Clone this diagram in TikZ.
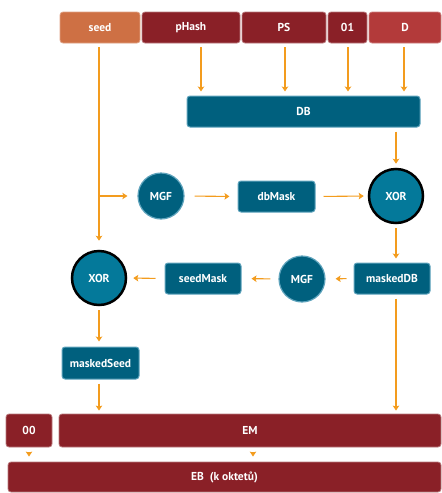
\documentclass[tikz,border=0pt]{standalone}
\usepackage{fontspec}
\setmainfont{PT Sans}
\usepackage{tikz}
\usetikzlibrary{arrows.meta, positioning, calc}

\definecolor{seedorange}{HTML}{CE7044}
\definecolor{darkred}{HTML}{8A2027}
\definecolor{lightred}{HTML}{B33A3A}
\definecolor{tealdark}{HTML}{00607E}
\definecolor{tealmid}{HTML}{04799A}
\definecolor{tealline}{HTML}{5EA3BC}
\definecolor{linkorange}{HTML}{F39C1E}

\begin{document}
\begin{tikzpicture}[
    x=1pt, y=-1pt,
    font=\bfseries\fontsize{11.5}{13}\selectfont,
    bar/.style={rectangle, rounded corners=3pt, line width=0.8pt, text=white, minimum height=31pt, inner sep=0pt},
    seedbar/.style={bar, fill=seedorange, draw=seedorange!65!white},
    redbar/.style={bar, fill=darkred, draw=darkred!60!white},
    dbar/.style={bar, fill=lightred, draw=lightred!65!white},
    tealbox/.style={bar, fill=tealdark, draw=tealline, line width=1pt},
    mgf/.style={circle, fill=tealdark, draw=tealline, line width=1.2pt, minimum size=46pt, inner sep=0pt, text=white},
    xor/.style={circle, fill=tealmid, draw=black, line width=2.5pt, minimum size=54pt, inner sep=0pt, text=white},
    arrow/.style={draw=linkorange, line width=1.1pt, -{Stealth[length=5pt, width=6.5pt, inset=1pt]}}
]
    \useasboundingbox (0,0) rectangle (442,493);

    \node[seedbar, minimum width=80pt] (seed) at (100,27.5) {seed};
    \node[redbar, minimum width=98pt] (pHash) at (191,27.5) {pHash};
    \node[redbar, minimum width=84pt] (PS) at (284,27.5) {PS};
    \node[redbar, minimum width=39pt] (sep01) at (347.5,27.5) {01};
    \node[dbar, minimum width=72pt] (D) at (405,27.5) {D};

    \node[tealbox, minimum width=233pt] (DB) at (303.5,111.5) {DB};

    \node[mgf] (MGF1) at (161,196) {MGF};
    \node[tealbox, minimum width=77pt] (dbMask) at (276.5,196.5) {dbMask};
    \node[xor] (XOR1) at (396,196) {XOR};

    \node[tealbox, minimum width=76pt] (maskedDB) at (392,278.5) {maskedDB};
    \node[mgf] (MGF2) at (302,279) {MGF};
    \node[tealbox, minimum width=76pt] (seedMask) at (203,278.5) {seedMask};
    \node[xor] (XOR2) at (99,278) {XOR};

    \node[tealbox, minimum width=77pt, minimum height=32pt] (maskedSeed) at (100.5,363) {maskedSeed};

    \node[redbar, minimum width=46pt, minimum height=33pt] (pad00) at (29,430.5) {00};
    \node[redbar, minimum width=382pt, minimum height=33pt] (EM) at (250,430.5) {EM};
    \node[redbar, minimum width=433pt, minimum height=30pt] (EB) at (224.5,477) {EB\ \ (k oktetů)};

    \foreach \f/\dx in {pHash/10, PS/1, sep01/0.5, D/-1}
        \draw[arrow, shorten <=4pt, shorten >=4pt] ([xshift=\dx pt]\f.south) -- ([xshift=\dx pt]\f.south |- DB.north);

    \draw[arrow, shorten <=4pt, shorten >=9pt] (seed.south -| XOR2) -- (XOR2.north);
    \draw[arrow, shorten >=10pt] (XOR2 |- MGF1) -- (MGF1.west);
    \draw[arrow, shorten <=10pt, shorten >=8pt] (MGF1.east) -- (dbMask.west);
    \draw[arrow, shorten <=8pt, shorten >=4pt] (dbMask.east) -- (XOR1.west);
    \draw[arrow, shorten <=4pt, shorten >=4pt] (XOR1 |- DB.south) -- (XOR1.north);
    \draw[arrow, shorten <=4pt, shorten >=4pt] (XOR1.south) -- (XOR1 |- maskedDB.north);

    \draw[arrow, shorten <=7pt, shorten >=10pt] (maskedDB.west) -- (MGF2.east);
    \draw[arrow, shorten <=8pt, shorten >=10pt] (MGF2.west) -- (seedMask.east);
    \draw[arrow, shorten <=9pt, shorten >=6pt] (seedMask.west) -- (XOR2.east);
    \draw[arrow, shorten <=4pt, shorten >=5pt] (XOR2.south) -- (XOR2 |- maskedSeed.north);

    \draw[arrow, shorten <=4pt, shorten >=3pt] (maskedSeed.south -| XOR2) -- (XOR2 |- EM.north);
    \draw[arrow, shorten <=4pt, shorten >=3pt] (XOR1 |- maskedDB.south) -- (XOR1 |- EM.north);

    \draw[arrow, shorten <=5pt, shorten >=5pt] (pad00.south) -- (pad00 |- EB.north);
    \draw[arrow, shorten <=5pt, shorten >=5pt] ([xshift=3pt]EM.south) -- ([xshift=3pt]EM.south |- EB.north);
\end{tikzpicture}
\end{document}
